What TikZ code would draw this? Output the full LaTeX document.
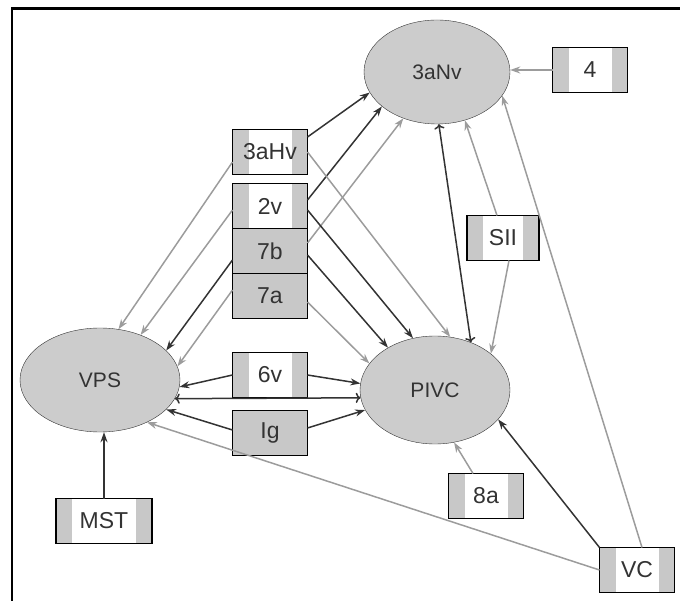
\documentclass[tikz,border=0pt]{standalone}
\usepackage{fontspec}
\setmainfont{Liberation Sans}
\usepackage{xcolor}
\usetikzlibrary{positioning,shapes.geometric,arrows.meta}
\definecolor{areagrey}{HTML}{CCCCCC}
\definecolor{bandgrey}{HTML}{C8C8C8}
\definecolor{darkline}{HTML}{333333}
\definecolor{lightline}{HTML}{9C9C9C}
\tikzset{
    area/.style = {draw=darkline, fill=areagrey, ellipse, thin, inner sep=0pt, minimum width=146pt, minimum height=104pt, text=darkline, font=\fontsize{21}{24}\selectfont},
    band-box/.style = {draw=black, fill=white, line width=1.5pt, rectangle, inner sep=0pt, outer sep=0pt, minimum width=75pt, minimum height=45pt, text=darkline, font=\fontsize{23}{24}\selectfont,
        path picture={\fill[bandgrey] (path picture bounding box.south west) rectangle ([xshift=16pt]path picture bounding box.north west);
                      \fill[bandgrey] (path picture bounding box.south east) rectangle ([xshift=-16pt]path picture bounding box.north east);}},
    grey-box/.style = {band-box, path picture={}, fill=bandgrey},
    dark-link/.style = {draw=darkline, line width=1.5pt, -{Stealth[length=10pt, width=7pt]}},
    light-link/.style = {draw=lightline, line width=1.5pt, -{Stealth[length=10pt, width=7pt]}},
}

\begin{document}
\begin{tikzpicture}[x=1pt, y=-1pt]
\useasboundingbox (0,0) rectangle (680,601);
\draw[line width=2.5pt] (12,601) -- (12,8.5) -- (680,8.5);

% cortical areas
\node[area] (nv3a) at (437,72) {3aNv};
\node[area, minimum width=160pt] (vps) at (100,380) {VPS};
\node[area, minimum width=150pt, minimum height=108pt] (pivc) at (435,390) {PIVC};

% afferent areas
\node[band-box] (four) at (590,70) {4};
\node[band-box] (hv3a) at (270,152) {3aHv};
\node[band-box] (v2) at (270,206) {2v};
\node[grey-box, below=0pt of v2] (b7) {7b};
\node[grey-box, below=0pt of b7] (a7) {7a};
\node[band-box] (v6) at (270,375) {6v};
\node[grey-box] (ig) at (270,433) {Ig};
\node[band-box, minimum width=72pt] (sii) at (503,238) {SII};
\node[band-box, minimum width=96pt] (mst) at (104,521) {MST};
\node[band-box] (a8) at (486,496) {8a};
\node[band-box] (vc) at (637,570) {VC};

% to VPS
\draw[light-link] ([yshift=-10pt]hv3a.west) -- (vps.70);
\draw[light-link] ([yshift=-4pt]v2.west) -- (vps.48);
\draw[dark-link] ([yshift=-9pt]b7.west) -- (vps.24);
\draw[light-link] ([yshift=6pt]a7.west) -- (vps.10);
\draw[dark-link] (v6.west) -- (vps.355);
\draw[dark-link] ([yshift=3pt]ig.west) -- (vps.336);
\draw[dark-link] (mst.north) -- (mst.north |- vps.south);
\draw[light-link] (vc.west) -- (vps.318);
\draw[dark-link, <->] (vps.346) -- (pivc.186);

% to 3aNv
\draw[dark-link] ([yshift=15pt]hv3a.east) -- (nv3a.197);
\draw[dark-link] ([yshift=6pt]v2.east) -- (nv3a.212);
\draw[light-link] ([yshift=8pt]b7.east) -- (nv3a.234);
\draw[light-link] (four.west) -- (four.west -| nv3a.east);
\draw[light-link] ([xshift=-6pt]sii.north) -- (nv3a.300);
\draw[light-link] ([xshift=5pt]vc.north) -- (nv3a.340);
\draw[dark-link, <->] (nv3a.272) -- (pivc.53);

% to PIVC
\draw[light-link] (hv3a.east) -- (pivc.74);
\draw[dark-link] ([yshift=-4pt]v2.east) -- (pivc.113);
\draw[dark-link] ([yshift=-4pt]b7.east) -- (pivc.138);
\draw[light-link] ([yshift=-6pt]a7.east) -- (pivc.158);
\draw[dark-link] (v6.east) -- (pivc.175);
\draw[dark-link] ([yshift=5pt]ig.east) -- (pivc.196);
\draw[light-link] ([xshift=6pt]sii.south) -- (pivc.33);
\draw[light-link] ([xshift=-13pt]a8.north) -- (pivc.290);
\draw[dark-link] (vc.north west) -- (pivc.335);
\end{tikzpicture}
\end{document}
